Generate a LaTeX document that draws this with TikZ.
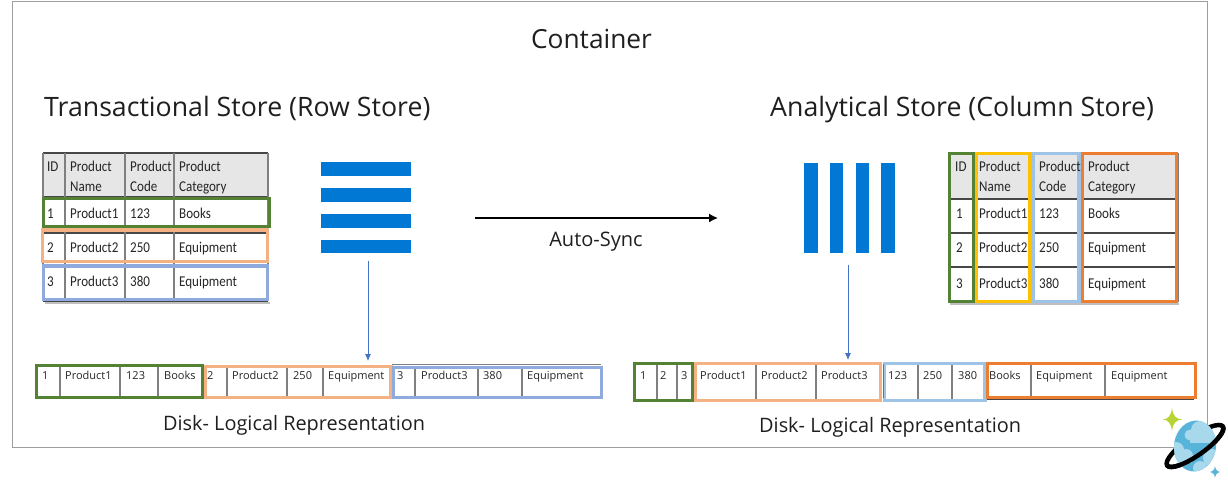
\documentclass[tikz,border=0pt]{standalone}
\usepackage{fontspec}
\setmainfont{Open Sans}
\newfontfamily\tbl[FakeStretch=0.87]{Carlito}
\usetikzlibrary{arrows.meta}
\definecolor{cgreen}{HTML}{548235}
\definecolor{corange}{HTML}{F4B183}
\definecolor{cblue}{HTML}{8FAADC}
\definecolor{cyellow}{HTML}{FFC000}
\definecolor{clblue}{HTML}{9DC3E6}
\definecolor{cdorange}{HTML}{ED7D31}
\definecolor{bar}{HTML}{0078D4}
\definecolor{arrowblue}{HTML}{4472C4}
\definecolor{hdr}{HTML}{E7E6E6}
\definecolor{planet}{RGB}{89,180,217}
\definecolor{cloud}{RGB}{167,216,236}
\definecolor{sparkle}{RGB}{184,212,50}
\tikzset{
  x=1pt,y=-1pt,
  title/.style={inner sep=0pt,font=\fontsize{26.7}{27}\selectfont,text=black!88},
  disklabel/.style={inner sep=0pt,font=\fontsize{19.9}{20}\selectfont,text=black!88},
  cell/.style={inner sep=0pt,anchor=base west,font=\tbl\fontsize{15}{16}\selectfont,text=black!85},
  diskcell/.style={inner sep=0pt,anchor=base west,font=\fontsize{11}{11}\selectfont,text=black!85},
  vline/.style={draw=black!50,line width=1.4pt},
  hline/.style={draw=black!72,line width=1.2pt},
  mark3/.style={line width=3.4pt},
  barfill/.style={fill=bar,draw=none},
}
\begin{document}
\begin{tikzpicture}
\useasboundingbox (0,0) rectangle (1228,486);
\fill[white] (0,0) rectangle (1228,486);
\draw[black!38,line width=1pt] (12,2) rectangle (1207,447);

\node[title,font=\fontsize{26.3}{27}\selectfont] (tcontainer) at (591.5,38.5) {Container};
\node[title,anchor=base west] (trow) at (44,117) {Transactional Store (Row Store)};
\node[title,anchor=base west] (tcol) at (770,117) {Analytical Store (Column Store)};
\node[disklabel,anchor=west] (dl1) at (163,425) {Disk- Logical Representation};
\node[disklabel,anchor=west] (dl2) at (759,427) {Disk- Logical Representation};
\node[inner sep=0pt,font=\fontsize{20}{20}\selectfont,text=black!88] (autosync) at (596,241.5) {Auto-Sync};

% left table
\fill[black!25] (45,302) rectangle (270,304);
\fill[hdr] (43,153) rectangle (268,196);
\draw[hline] (43,153) -- (268,153);
\foreach \yy in {197,233,267,301}{\draw[hline] (43,\yy) -- (268,\yy);}
\foreach \xx in {43,65,125,174,268}{\draw[vline] (\xx,153) -- (\xx,301);}
\draw[mark3,cgreen] (43.5,198.5) rectangle (269.5,226.5);
\draw[mark3,corange] (42.5,230) rectangle (267.5,261.5);
\draw[mark3,cblue] (43.5,266) rectangle (267.5,299.5);
\node[cell] (l0a) at (47,172) {ID};
\node[cell] (l0b) at (70,172) {Product};
\node[cell] (l0b2) at (70,192) {Name};
\node[cell] (l0c) at (130,172) {Product};
\node[cell] (l0c2) at (130,192) {Code};
\node[cell] (l0d) at (179,172) {Product};
\node[cell] (l0d2) at (179,192) {Category};
\node[cell] (l1a) at (47,219) {1};
\node[cell] (l1b) at (70,219) {Product1};
\node[cell] (l1c) at (130,219) {123};
\node[cell] (l1d) at (179,219) {Books};
\node[cell] (l2a) at (47,253) {2};
\node[cell] (l2b) at (70,253) {Product2};
\node[cell] (l2c) at (130,253) {250};
\node[cell] (l2d) at (179,253) {Equipment};
\node[cell] (l3a) at (47,287) {3};
\node[cell] (l3b) at (70,287) {Product3};
\node[cell] (l3c) at (130,287) {380};
\node[cell] (l3d) at (179,287) {Equipment};

% right table
\fill[black!25] (950,303) rectangle (1179,305);
\fill[hdr] (949,153) rectangle (1178,199);
\foreach \yy in {153,199,233,267,302}{\draw[hline] (949,\yy) -- (1178,\yy);}
\foreach \xx in {975,1032,1081,1178}{\draw[vline] (\xx,153) -- (\xx,302);}
\draw[mark3,cgreen] (949.5,153.5) rectangle (973.5,301.5);
\draw[mark3,cyellow] (976.5,153.5) rectangle (1030,301.5);
\draw[mark3,clblue] (1033.5,153.5) rectangle (1079,301.5);
\draw[mark3,cdorange] (1082.5,153.5) rectangle (1176.5,301.5);
\node[cell] (r0a) at (955,172) {ID};
\node[cell] (r0b) at (979,172) {Product};
\node[cell] (r0b2) at (979,192) {Name};
\node[cell] (r0c) at (1039,172) {Product};
\node[cell] (r0c2) at (1039,192) {Code};
\node[cell] (r0d) at (1088,172) {Product};
\node[cell] (r0d2) at (1088,192) {Category};
\node[cell] (r1a) at (956,219) {1};
\node[cell] (r1b) at (979,219) {Product1};
\node[cell] (r1c) at (1039,219) {123};
\node[cell] (r1d) at (1088,219) {Books};
\node[cell] (r2a) at (956,253) {2};
\node[cell] (r2b) at (979,253) {Product2};
\node[cell] (r2c) at (1039,253) {250};
\node[cell] (r2d) at (1088,253) {Equipment};
\node[cell] (r3a) at (956,288) {3};
\node[cell] (r3b) at (979,288) {Product3};
\node[cell] (r3c) at (1039,288) {380};
\node[cell] (r3d) at (1088,288) {Equipment};

% bars
\fill[barfill] (321,162) rectangle (411,176);
\fill[barfill] (321,188) rectangle (411,202);
\fill[barfill] (321,214) rectangle (411,228);
\fill[barfill] (321,240) rectangle (411,253);
\fill[barfill] (804,163) rectangle (818,253);
\fill[barfill] (830,163) rectangle (843,253);
\fill[barfill] (856,163) rectangle (869,253);
\fill[barfill] (881,163) rectangle (895,253);

% connectors
\coordinate (syncA) at (475,218);
\coordinate (syncB) at (718,218);
\draw[-{Latex[length=9pt,width=9pt]},black,line width=1.5pt] (syncA) -- (syncB);
\coordinate (rowA) at (368,261);
\coordinate (rowB) at (368,361);
\draw[-{Latex[length=7pt,width=6pt]},arrowblue,line width=.8pt] (rowA) -- (rowB);
\coordinate (colA) at (848,265);
\coordinate (colB) at (848,360);
\draw[-{Latex[length=7pt,width=6pt]},arrowblue,line width=.8pt] (colA) -- (colB);

% left disk row
\draw[vline,line width=1pt] (392,364.5) -- (601,364.5);
\foreach \xx in {60,120,158,227,287,323,415,478,522}{\draw[vline] (\xx,366) -- (\xx,397);}
\node[diskcell] (a1) at (42,379) {1};
\node[diskcell] (a2) at (65,379) {Product1};
\node[diskcell] (a3) at (126,379) {123};
\node[diskcell] (a4) at (164,379) {Books};
\node[diskcell] (a5) at (207,379) {2};
\node[diskcell] (a6) at (232,379) {Product2};
\node[diskcell] (a7) at (293,379) {250};
\node[diskcell] (a8) at (328,379) {Equipment};
\node[diskcell] (a9) at (397,379) {3};
\node[diskcell] (a10) at (421,379) {Product3};
\node[diskcell] (a11) at (483,379) {380};
\node[diskcell] (a12) at (527,379) {Equipment};
\draw[mark3,corange] (205,366.5) rectangle (391,397.5);
\draw[mark3,cblue] (393.5,367.5) rectangle (601.5,397.5);
\draw[mark3,cgreen] (36.5,365.5) rectangle (202.5,397.5);

% right disk row
\draw[hline] (986,399.5) -- (1194,399.5);
\foreach \xx in {657,677,756,816,918,952,1031,1105}{\draw[vline] (\xx,364) -- (\xx,399);}
\node[diskcell] (b1) at (640,379) {1};
\node[diskcell] (b2) at (660,379) {2};
\node[diskcell] (b3) at (681,379) {3};
\node[diskcell] (b4) at (700,379) {Product1};
\node[diskcell] (b5) at (761,379) {Product2};
\node[diskcell] (b6) at (821,379) {Product3};
\node[diskcell] (b7) at (888,379) {123};
\node[diskcell] (b8) at (923,379) {250};
\node[diskcell] (b9) at (958,379) {380};
\node[diskcell] (b10) at (989,379) {Books};
\node[diskcell] (b11) at (1036,379) {Equipment};
\node[diskcell] (b12) at (1111,379) {Equipment};
\draw[mark3,clblue] (884.5,363.5) rectangle (985,400.5);
\draw[black!55,line width=1pt] (883.5,364) -- (883.5,398);
\draw[mark3,cgreen] (634.5,363.5) rectangle (692.5,400.5);
\draw[mark3,corange] (695.5,363.5) rectangle (880.5,400.5);
\draw[mark3,cdorange] (987.5,363.5) rectangle (1195.5,397.5);

% logo
\begin{scope}[shift={(1195,446)},rotate=35]
  \draw[black,line width=4.5pt,line cap=round] (0,0) ellipse [x radius=34,y radius=9.5];
\end{scope}
\begin{scope}
  \clip[rotate around={-8:(1195,446)}] (1195,446) ellipse [x radius=21,y radius=25.5];
  \fill[planet] (1165,415) rectangle (1225,478);
  \fill[cloud] (1190,435) circle [radius=5.5];
  \fill[cloud] (1200,430) circle [radius=9];
  \fill[cloud] (1213,433) circle [radius=10];
  \fill[cloud] (1190,436) rectangle (1220,443);
  \fill[cloud] (1176,450) circle [radius=8];
  \fill[cloud] (1186,456) circle [radius=7];
  \fill[cloud] (1170,456) rectangle (1192,463);
  \fill[cloud] (1212,458) circle [radius=9];
  \fill[cloud] (1200,468) circle [radius=7];
\end{scope}
\begin{scope}[shift={(1195,446)},rotate=35]
  \draw[black,line width=4.5pt,line cap=round] (-34,0) arc [start angle=180,end angle=0,x radius=34,y radius=9.5];
\end{scope}
\fill[sparkle] (1172,408) .. controls (1173,416) and (1176,419) .. (1182,419.5) .. controls (1176,420) and (1173,423) .. (1172,431) .. controls (1171,423) and (1168,420) .. (1163,419.5) .. controls (1168,419) and (1171,416) .. (1172,408) -- cycle;
\fill[planet] (1215,466) .. controls (1215.5,469.5) and (1216.5,471) .. (1220,472) .. controls (1216.5,473) and (1215.5,474.5) .. (1215,478) .. controls (1214.5,474.5) and (1213.5,473) .. (1210,472) .. controls (1213.5,471) and (1214.5,469.5) .. (1215,466) -- cycle;
\end{tikzpicture}
\end{document}
